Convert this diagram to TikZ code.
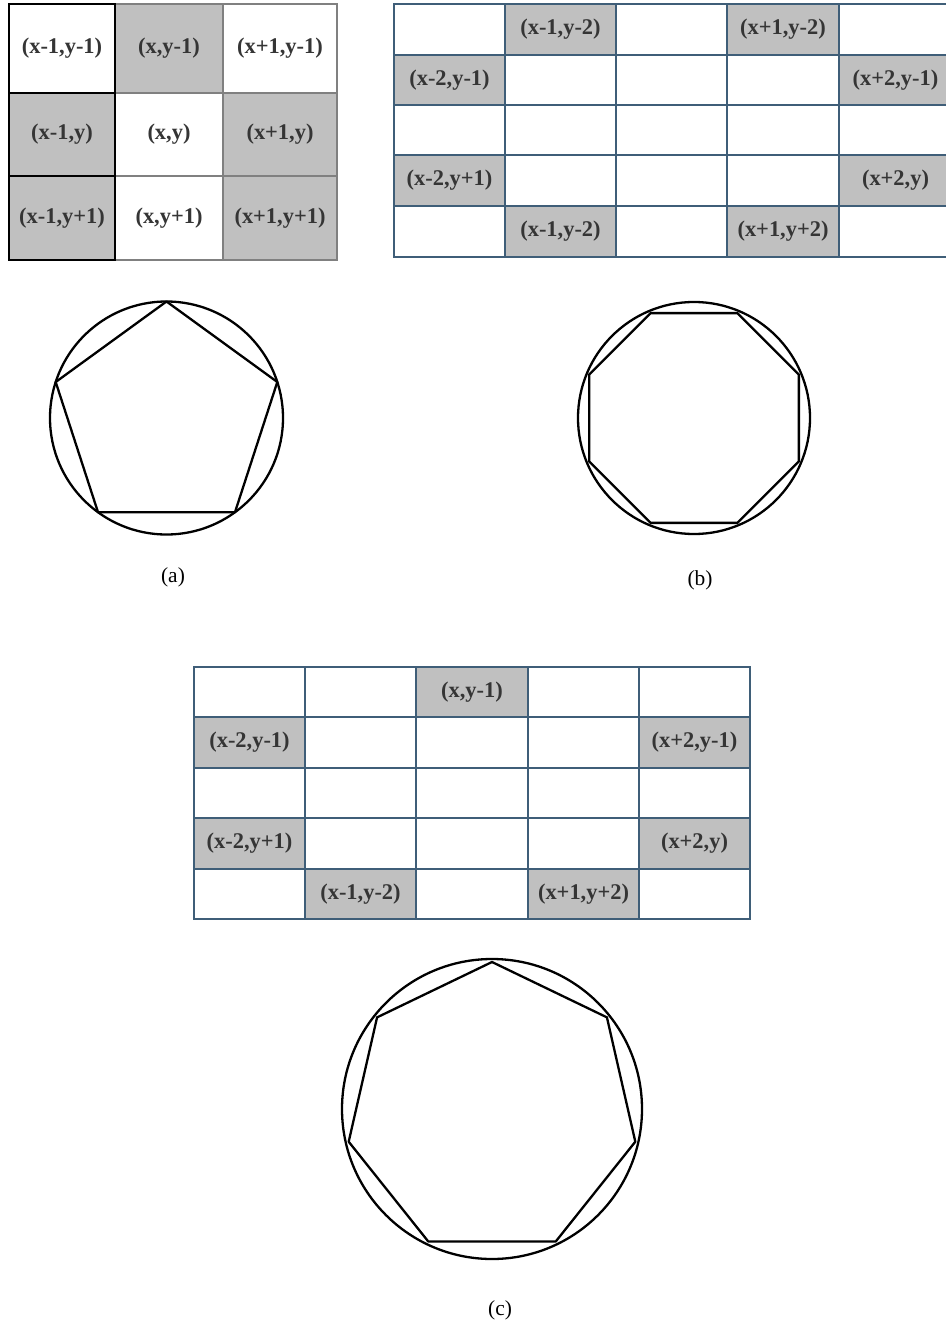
\documentclass[tikz,border=0pt]{standalone}
\usepackage{fontspec}
\setmainfont{Liberation Serif}
\definecolor{cellgray}{HTML}{C0C0C0}
\definecolor{gridblue}{HTML}{3F5E78}
\definecolor{linegray}{HTML}{808080}
\definecolor{txtgray}{HTML}{353535}
\newcommand\mycell[7]{%
  \node[#6, minimum width={#4bp-#2bp}, minimum height={#5bp-#3bp}]
    (#1) at ({(#2+#4)/2},{(#3+#5)/2}) {#7};}
\tikzset{
  cellbase/.style={rectangle, inner sep=0pt, outer sep=0pt, text=txtgray,
    font=\bfseries\fontsize{22.5}{22.5}\selectfont},
  graycell/.style={cellbase, draw=linegray, line width=2.5bp},
  blackcell/.style={cellbase, draw=black, line width=2bp},
  bluecell/.style={cellbase, draw=gridblue, line width=2.2bp},
  shaded/.style={fill=cellgray},
  plain/.style={fill=white},
  outline/.style={draw=black, line width=2.3bp, line join=round},
  caption/.style={font=\fontsize{21.5}{21.5}\selectfont, text=black}
}
\begin{document}
\begin{tikzpicture}[x=1bp, y=-1bp]
\fill[white] (0,0) rectangle (945,1326);
\useasboundingbox (0,0) rectangle (945,1326);

% ---------- top-left 3x3 grid ----------
\mycell{g1-0-1}{115}{4}{223}{93}{graycell,shaded}{(x,y-1)}
\mycell{g1-0-2}{223}{4}{337}{93}{graycell,plain}{(x+1,y-1)}
\mycell{g1-1-1}{115}{93}{223}{176}{graycell,plain}{(x,y)}
\mycell{g1-1-2}{223}{93}{337}{176}{graycell,shaded}{(x+1,y)}
\mycell{g1-2-1}{115}{176}{223}{260}{graycell,plain}{(x,y+1)}
\mycell{g1-2-2}{223}{176}{337}{260}{graycell,shaded}{(x+1,y+1)}
\mycell{g1-0-0}{9}{4}{115}{93}{blackcell,plain}{(x-1,y-1)}
\mycell{g1-1-0}{9}{93}{115}{176}{blackcell,shaded}{(x-1,y)}
\mycell{g1-2-0}{9}{176}{115}{260}{blackcell,shaded}{(x-1,y+1)}

% ---------- top-right 5x5 grid ----------
\mycell{g2-0-0}{394}{4}{505}{55}{bluecell,plain}{}
\mycell{g2-0-1}{505}{4}{616}{55}{bluecell,shaded}{(x-1,y-2)}
\mycell{g2-0-2}{616}{4}{727}{55}{bluecell,plain}{}
\mycell{g2-0-3}{727}{4}{839}{55}{bluecell,shaded}{(x+1,y-2)}
\mycell{g2-0-4}{839}{4}{952}{55}{bluecell,plain}{}
\mycell{g2-1-0}{394}{55}{505}{105}{bluecell,shaded}{(x-2,y-1)}
\mycell{g2-1-1}{505}{55}{616}{105}{bluecell,plain}{}
\mycell{g2-1-2}{616}{55}{727}{105}{bluecell,plain}{}
\mycell{g2-1-3}{727}{55}{839}{105}{bluecell,plain}{}
\mycell{g2-1-4}{839}{55}{952}{105}{bluecell,shaded}{(x+2,y-1)}
\mycell{g2-2-0}{394}{105}{505}{155}{bluecell,plain}{}
\mycell{g2-2-1}{505}{105}{616}{155}{bluecell,plain}{}
\mycell{g2-2-2}{616}{105}{727}{155}{bluecell,plain}{}
\mycell{g2-2-3}{727}{105}{839}{155}{bluecell,plain}{}
\mycell{g2-2-4}{839}{105}{952}{155}{bluecell,plain}{}
\mycell{g2-3-0}{394}{155}{505}{206}{bluecell,shaded}{(x-2,y+1)}
\mycell{g2-3-1}{505}{155}{616}{206}{bluecell,plain}{}
\mycell{g2-3-2}{616}{155}{727}{206}{bluecell,plain}{}
\mycell{g2-3-3}{727}{155}{839}{206}{bluecell,plain}{}
\mycell{g2-3-4}{839}{155}{952}{206}{bluecell,shaded}{(x+2,y)}
\mycell{g2-4-0}{394}{206}{505}{257}{bluecell,plain}{}
\mycell{g2-4-1}{505}{206}{616}{257}{bluecell,shaded}{(x-1,y-2)}
\mycell{g2-4-2}{616}{206}{727}{257}{bluecell,plain}{}
\mycell{g2-4-3}{727}{206}{839}{257}{bluecell,shaded}{(x+1,y+2)}
\mycell{g2-4-4}{839}{206}{952}{257}{bluecell,plain}{}

% ---------- bottom 5x5 grid ----------
\mycell{g3-0-0}{194}{667}{305}{717}{bluecell,plain}{}
\mycell{g3-0-1}{305}{667}{416}{717}{bluecell,plain}{}
\mycell{g3-0-2}{416}{667}{528}{717}{bluecell,shaded}{(x,y-1)}
\mycell{g3-0-3}{528}{667}{639}{717}{bluecell,plain}{}
\mycell{g3-0-4}{639}{667}{750}{717}{bluecell,plain}{}
\mycell{g3-1-0}{194}{717}{305}{768}{bluecell,shaded}{(x-2,y-1)}
\mycell{g3-1-1}{305}{717}{416}{768}{bluecell,plain}{}
\mycell{g3-1-2}{416}{717}{528}{768}{bluecell,plain}{}
\mycell{g3-1-3}{528}{717}{639}{768}{bluecell,plain}{}
\mycell{g3-1-4}{639}{717}{750}{768}{bluecell,shaded}{(x+2,y-1)}
\mycell{g3-2-0}{194}{768}{305}{818}{bluecell,plain}{}
\mycell{g3-2-1}{305}{768}{416}{818}{bluecell,plain}{}
\mycell{g3-2-2}{416}{768}{528}{818}{bluecell,plain}{}
\mycell{g3-2-3}{528}{768}{639}{818}{bluecell,plain}{}
\mycell{g3-2-4}{639}{768}{750}{818}{bluecell,plain}{}
\mycell{g3-3-0}{194}{818}{305}{869}{bluecell,shaded}{(x-2,y+1)}
\mycell{g3-3-1}{305}{818}{416}{869}{bluecell,plain}{}
\mycell{g3-3-2}{416}{818}{528}{869}{bluecell,plain}{}
\mycell{g3-3-3}{528}{818}{639}{869}{bluecell,plain}{}
\mycell{g3-3-4}{639}{818}{750}{869}{bluecell,shaded}{(x+2,y)}
\mycell{g3-4-0}{194}{869}{305}{919}{bluecell,plain}{}
\mycell{g3-4-1}{305}{869}{416}{919}{bluecell,shaded}{(x-1,y-2)}
\mycell{g3-4-2}{416}{869}{528}{919}{bluecell,plain}{}
\mycell{g3-4-3}{528}{869}{639}{919}{bluecell,shaded}{(x+1,y+2)}
\mycell{g3-4-4}{639}{869}{750}{919}{bluecell,plain}{}

% ---------- circles with inscribed polygons ----------
\coordinate (ca) at (166.5,418);
\draw[outline] (ca) circle[radius=116.5];
\draw[outline] (ca) +(-90:116.5) -- +(-18:116.5) -- +(54:116.5) -- +(126:116.5) -- +(198:116.5) -- cycle;

\coordinate (cb) at (694,418);
\draw[outline] (cb) circle[radius=116];
\draw[outline] (cb) +(22.5:113.5) -- +(67.5:113.5) -- +(112.5:113.5) -- +(157.5:113.5)
  -- +(202.5:113.5) -- +(247.5:113.5) -- +(292.5:113.5) -- +(337.5:113.5) -- cycle;

\coordinate (cc) at (492,1109);
\draw[outline] (cc) circle[radius=150];
\draw[outline] (cc) +(-90:147) -- +(-38.571:147) -- +(12.857:147) -- +(64.286:147)
  -- +(115.714:147) -- +(167.143:147) -- +(218.571:147) -- cycle;

% ---------- captions ----------
\node[caption] (la) at (173,577) {(a)};
\node[caption] (lb) at (700,580) {(b)};
\node[caption] (lc) at (500,1310) {(c)};
\end{tikzpicture}
\end{document}
